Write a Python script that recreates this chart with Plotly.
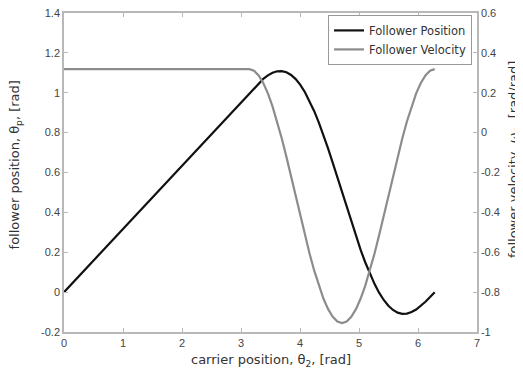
import plotly.graph_objects as go

# carrier position theta_2 [rad]
carrier = [0.0, 3.1416, 3.2201, 3.2987, 3.3772, 3.4558, 3.5343, 3.6128, 3.6914,
           3.7699, 3.8485, 3.9270, 4.0055, 4.0841, 4.1626, 4.2412, 4.3197,
           4.3982, 4.4768, 4.5553, 4.6339, 4.7124, 4.7909, 4.8695, 4.9480,
           5.0265, 5.1051, 5.1836, 5.2622, 5.3407, 5.4193, 5.4978, 5.5763,
           5.6549, 5.7334, 5.8119, 5.8905, 5.9690, 6.0476, 6.1261, 6.2046, 6.2832]
# follower position theta_p [rad]
position = [0.0, 1.0000, 1.0248, 1.0484, 1.0695, 1.0871, 1.1001, 1.1075, 1.1086,
            1.1027, 1.0894, 1.0683, 1.0394, 1.0027, 0.9586, 0.9075, 0.8501,
            0.7871, 0.7195, 0.6484, 0.5748, 0.5000, 0.4252, 0.3516, 0.2805,
            0.2129, 0.1499, 0.0925, 0.0414, -0.0027, -0.0394, -0.0683, -0.0894,
            -0.1027, -0.1086, -0.1075, -0.1001, -0.0871, -0.0695, -0.0484, -0.0248, 0.0]
# follower velocity omega_p [rad/rad]
velocity = [0.3183, 0.3183, 0.3105, 0.2872, 0.2489, 0.1967, 0.1318, 0.0559, -0.0293,
            -0.1216, -0.2187, -0.3183, -0.4179, -0.5150, -0.6073, -0.6925, -0.7685,
            -0.8333, -0.8855, -0.9238, -0.9471, -0.9549, -0.9471, -0.9238, -0.8855,
            -0.8333, -0.7685, -0.6925, -0.6073, -0.5150, -0.4179, -0.3183, -0.2187,
            -0.1216, -0.0293, 0.0559, 0.1318, 0.1967, 0.2489, 0.2872, 0.3105, 0.3183]

x_ticks = [0, 1, 2, 3, 4, 5, 6, 7]
y1_ticks = [-0.2, 0, 0.2, 0.4, 0.6, 0.8, 1.0, 1.2, 1.4]
y1_text = ["-0.2", "0", "0.2", "0.4", "0.6", "0.8", "1", "1.2", "1.4"]
y2_ticks = [-1, -0.8, -0.6, -0.4, -0.2, 0, 0.2, 0.4, 0.6]
y2_text = ["-1", "-0.8", "-0.6", "-0.4", "-0.2", "0", "0.2", "0.4", "0.6"]

x_title = "carrier position, θ<sub>2</sub>, [rad]"
y1_title = "follower position, θ<sub>p</sub>, [rad]"
y2_title = "follower velocity, ω<sub>p</sub>, [rad/rad]"

font = "Liberation Sans, Arial, sans-serif"
wfont = "DejaVu Sans, Verdana, sans-serif"
axis_col = "#b8b8b8"
text_col = "#444444"

fig = go.Figure()
fig.add_trace(go.Scatter(x=carrier, y=position, name="Follower Position",
                         mode="lines", line=dict(color="#111111", width=2.2)))
fig.add_trace(go.Scatter(x=carrier, y=velocity, name="Follower Velocity", yaxis="y2",
                         mode="lines", line=dict(color="#8c8c8c", width=2.2)))

tickfont = dict(family=font, size=11, color=text_col)
titlefont = dict(family=wfont, size=13, color="#333333")

# the page body adds an 8px offset, so the figure is sized/margined to compensate
fig.update_layout(
    width=515, height=365,
    margin=dict(l=56, r=46, t=5, b=41, autoexpand=False),
    paper_bgcolor="white", plot_bgcolor="white",
    font=dict(family=font, size=11, color=text_col),
    showlegend=True,
    legend=dict(x=0.988, y=0.994, xanchor="right", yanchor="top",
                bgcolor="white", bordercolor="#999999", borderwidth=1,
                font=dict(family=wfont, size=11.5, color="#333333"),
                tracegroupgap=0, itemwidth=30),
    xaxis=dict(range=[0, 7], tickvals=x_ticks, ticktext=[str(v) for v in x_ticks],
               ticks="inside", ticklen=4, tickcolor=axis_col, showline=True,
               linecolor=axis_col, linewidth=1.5, mirror="ticks", showgrid=False,
               zeroline=False, tickfont=tickfont, automargin=False,
               ticklabeloverflow="allow"),
    yaxis=dict(range=[-0.2, 1.4], tickvals=y1_ticks, ticktext=y1_text,
               ticks="inside", ticklen=4, tickcolor=axis_col, showline=True,
               linecolor=axis_col, linewidth=1.5, showgrid=False, zeroline=False,
               tickfont=tickfont, automargin=False, ticklabeloverflow="allow"),
    yaxis2=dict(range=[-1, 0.6], tickvals=y2_ticks, ticktext=y2_text,
                overlaying="y", side="right", ticks="inside", ticklen=4, tickcolor=axis_col,
                showline=True, linecolor=axis_col, linewidth=1.5, showgrid=False,
                zeroline=False, tickfont=tickfont, automargin=False,
                ticklabeloverflow="allow"),
    annotations=[
        dict(text=x_title, xref="paper", yref="paper", x=0.5, y=-0.088,
             xanchor="center", yanchor="middle", showarrow=False, font=titlefont),
        dict(text=y1_title, xref="paper", yref="paper", x=-0.1165, y=0.525,
             xanchor="center", yanchor="middle", showarrow=False, font=titlefont, textangle=-90),
        dict(text=y2_title, xref="paper", yref="paper", x=1.0905, y=0.54,
             xanchor="center", yanchor="middle", showarrow=False, font=titlefont, textangle=-90),
    ],
)

fig.write_html("out.html")
